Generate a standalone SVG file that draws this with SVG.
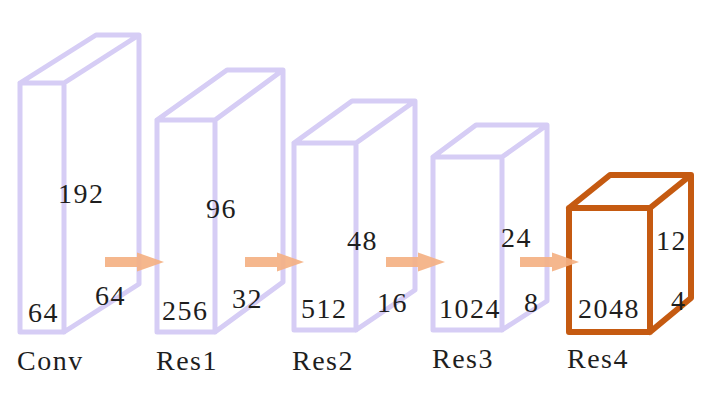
<svg xmlns="http://www.w3.org/2000/svg" xmlns:xlink="http://www.w3.org/1999/xlink" width="724" height="400" viewBox="0 0 724 400">
<defs>
<style>
.box{fill:none;stroke:#d6cdf5;stroke-width:5;stroke-linejoin:round;stroke-linecap:round}
.hot{fill:none;stroke:#c55a11;stroke-width:6;stroke-linejoin:round;stroke-linecap:round}
text{font-family:"Liberation Serif","Times New Roman",serif;font-size:28px;fill:#1e1e1e;letter-spacing:1.5px}
.arr{fill:#f4b183;opacity:0.92}
</style>
<path id="arrow" d="M0,-5 H32 V-9.5 L59,0 L32,9.5 V5 H0 Z"/>
</defs>
<rect width="724" height="400" fill="#ffffff"/>
<g id="conv">
<path class="box" d="M20,83 H64 V332 H20 Z M20,83 L96,35 H139 L64,83 M139,35 V284 L64,332"/>
<text x="58" y="203">192</text>
<text x="28" y="322">64</text>
<text x="95" y="305">64</text>
<text x="17" y="370">Conv</text>
</g>
<g id="res1">
<path class="box" d="M157,120 H215 V332 H157 Z M157,120 L227,70 H283 L215,120 M283,70 V282 L215,332"/>
<text x="206" y="218">96</text>
<text x="162" y="320">256</text>
<text x="232" y="308">32</text>
<text x="156" y="370">Res1</text>
</g>
<g id="res2">
<path class="box" d="M294,143 H356 V330 H294 Z M294,143 L352,101 H415 L356,143 M415,101 V290 L356,330"/>
<text x="347" y="250">48</text>
<text x="301" y="318">512</text>
<text x="377" y="312">16</text>
<text x="292" y="370">Res2</text>
</g>
<g id="res3">
<path class="box" d="M433,157 H502 V330 H433 Z M433,157 L476,125 H547 L502,157 M547,125 V301 L502,330"/>
<text x="501" y="247">24</text>
<text x="439" y="318">1024</text>
<text x="524" y="312">8</text>
<text x="432" y="368">Res3</text>
</g>
<g id="res4">
<path class="hot" d="M569,208 H650 V332 H569 Z M569,208 L610,175 H691 L650,208 M691,175 V298 L650,332"/>
<text x="656" y="250">12</text>
<text x="578" y="318">2048</text>
<text x="671" y="310">4</text>
<text x="567" y="368">Res4</text>
</g>
<g id="connectors">
<use class="arr" xlink:href="#arrow" href="#arrow" transform="translate(105,262)"/>
<use class="arr" xlink:href="#arrow" href="#arrow" transform="translate(245,262)"/>
<use class="arr" xlink:href="#arrow" href="#arrow" transform="translate(386,262)"/>
<use class="arr" xlink:href="#arrow" href="#arrow" transform="translate(520,262)"/>
</g>
</svg>
